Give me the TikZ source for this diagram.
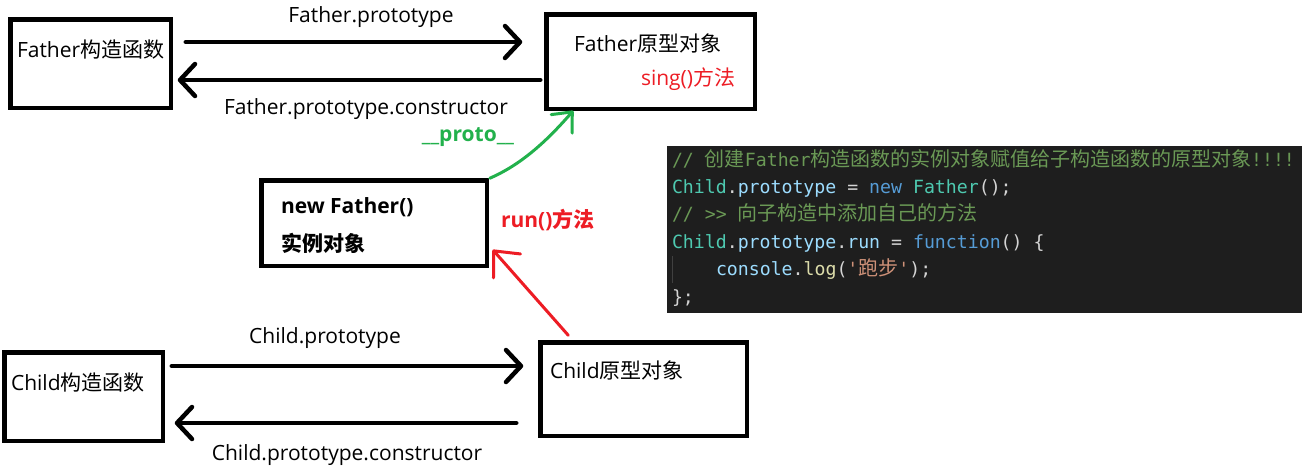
\documentclass[tikz,border=0pt]{standalone}
\usepackage{fontspec}
\setmainfont{Open Sans}
\newfontfamily\cjk{Noto Sans CJK SC}
\newfontfamily\monof{DejaVu Sans Mono}
\newfontfamily\cjkc{Noto Sans CJK SC}[Scale=1.1]
\usetikzlibrary{arrows.meta}
\definecolor{codebg}{HTML}{1E1E1E}
\definecolor{ccom}{HTML}{6A9955}
\definecolor{ccls}{HTML}{4EC9B0}
\definecolor{cvar}{HTML}{9CDCFE}
\definecolor{ckey}{HTML}{569CD6}
\definecolor{cfun}{HTML}{DCDCAA}
\definecolor{cpun}{HTML}{D4D4D4}
\definecolor{cstr}{HTML}{CE9178}
\definecolor{lblred}{HTML}{ED1C24}
\definecolor{pgreen}{HTML}{22B14C}
\definecolor{guide}{HTML}{404040}
\begin{document}
\begin{tikzpicture}[x=1pt,y=-1pt,
  every node/.style={inner sep=0pt, outer sep=0pt, font=\fontsize{21}{25}\selectfont},
  box/.style={draw=black, line width=4.5pt, minimum width=#1},
  blk/.style={draw=black, line width=4.5pt, line cap=round, -{Straight Barb[length=15pt,width=32pt,round]}},
  redarr/.style={draw=lblred, line width=3pt, line cap=round, -{Straight Barb[length=20pt,width=36pt,round]}},
  grnarr/.style={draw=pgreen, line width=3pt, line cap=round, -{Straight Barb[length=16pt,width=28pt,round]}},
  code/.style={anchor=base west, font=\monof\fontsize{18.2}{22}\selectfont, text=cpun}
]
\useasboundingbox (0,0) rectangle (1306,472);
\fill[white] (0,0) rectangle (1306,472);

% boxes
\node[box=160.5pt, minimum height=88.5pt] (fc) at (90.5,63.5) {};
\node[box=208.5pt, minimum height=94.5pt] (fp) at (650.5,61.5) {};
\node[box=225.5pt, minimum height=85.5pt] (nf) at (374,223) {};
\node[box=158.5pt, minimum height=88.5pt] (cc) at (83.5,396.5) {};
\node[box=206.5pt, minimum height=93.5pt] (cp) at (643.5,389) {};

% box texts
\node[anchor=west] (fct) at (17,50) {Father{\cjk 构造函数}};
\node[anchor=west] (fpt) at (574,43) {Father{\cjk 原型对象}};
\node[anchor=west, text=lblred] (sing) at (641,79) {sing(){\cjk 方法}};
\node[anchor=west, font=\bfseries\fontsize{21}{25}\selectfont] (nft) at (281,207) {new Father()};
\node[anchor=west, font=\bfseries\fontsize{21}{25}\selectfont] (nfz) at (281,243) {\cjk\bfseries 实例对象};
\node[anchor=west, text=lblred, font=\bfseries\fontsize{21}{25}\selectfont] (run) at (501,220) {run(){\cjk\bfseries 方法}};
\node[anchor=west] (cct) at (11,383) {Child{\cjk 构造函数}};
\node[anchor=west] (cpt) at (550,370) {Child{\cjk 原型对象}};

% connector labels
\node (l1) at (371,17) {Father.prototype};
\node (l2) at (366,109) {Father.prototype.constructor};
\node[text=pgreen, font=\bfseries\fontsize{21}{25}\selectfont] (l3) at (468,137) {\_\_proto\_\_};
\node (l4) at (325,338) {Child.prototype};
\node (l5) at (347,455) {Child.prototype.constructor};

% black arrows
\draw[blk, shorten <=15pt, shorten >=24pt] (fc.east |- 0,42) -- (fp.west |- 0,42);
\draw[blk, shorten <=6pt, shorten >=7pt] (fp.west |- 0,80) -- (fc.east |- 0,80);
\draw[blk, shorten <=9pt, shorten >=17pt] (cc.east |- 0,366) -- (cp.west |- 0,366);
\draw[blk, shorten <=24pt, shorten >=12pt] (cp.west |- 0,423) -- (cc.east |- 0,423);

% coloured arrows
\draw[grnarr] ([shift={(3,-2)}]nf.north east) .. controls (525,163) and (551,136) .. ([shift={(27,2)}]fp.south west);
\draw[redarr] ([shift={(28,-7)}]cp.north west) -- ([shift={(6,-16)}]nf.south east);

% code panel
\fill[codebg] (667,146) rectangle (1302,313);
\draw[guide, line width=1pt] (672.5,256) -- (672.5,283);
\node[code] (c1) at (672,166) {\color{ccom}// {\cjkc 创建}Father{\cjkc 构造函数的实例对象赋值给子构造函数的原型对象}!!!!};
\node[code] (c2) at (672,193.4) {{\color{ccls}Child}.{\color{cvar}prototype} = {\color{ckey}new} {\color{ccls}Father}();};
\node[code] (c3) at (672,220.8) {\color{ccom}// >> {\cjkc 向子构造中添加自己的方法}};
\node[code] (c4) at (672,248.2) {{\color{ccls}Child}.{\color{cvar}prototype}.{\color{cvar}run} = {\color{ckey}function}() \{};
\node[code] (c5) at (716,275.6) {{\color{cvar}console}.{\color{cfun}log}({\color{cstr}'{\cjkc 跑步}'});};
\node[code] (c6) at (672,303) {\};};
\end{tikzpicture}
\end{document}
